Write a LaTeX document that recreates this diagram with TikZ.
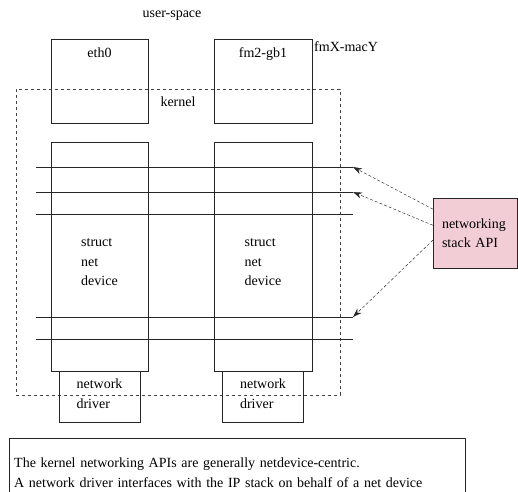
\documentclass[tikz,border=0pt]{standalone}
\usepackage{fontspec}
\setmainfont{Liberation Serif}
\usetikzlibrary{calc, positioning, arrows.meta}
\definecolor{apipink}{RGB}{243,205,214}

\begin{document}
\begin{tikzpicture}[
  x=1pt, y=-1pt,
  >={Stealth[length=9pt, width=6pt]},
  font=\fontsize{14}{19.5}\selectfont
]
\tikzstyle{box}=[draw=black!85, line width=0.7pt, inner sep=0pt, outer sep=0pt]
\tikzstyle{bus}=[draw=black!85, line width=0.8pt]
\tikzstyle{call}=[->, densely dashed, line width=0.45pt, black!85]

\useasboundingbox (0,0) rectangle (518,491);

% ================= USER SPACE =================
\node (user) at (172,16) {user-space};
\node[box, minimum width=97pt, minimum height=84pt,
      label={[anchor=north, yshift=-5pt]north:eth0}] (eth0) at (99.5,81) {};
\node[box, minimum width=98pt, minimum height=84pt,
      label={[anchor=north, yshift=-5pt]north:fm2-gb1}] (fm2) [right=66pt of eth0] {};
\node[anchor=north west, inner sep=2pt] (macY) at (fm2.north east) {fmX-macY};

% ================= KERNEL =================
\node[box, dashed, draw=black!75, minimum width=324pt, minimum height=306pt,
      label={[anchor=north, yshift=-4pt]north:kernel}] (kernel) at (178,242) {};

% ================= NET DEVICES =================
\node[box, minimum width=97pt, minimum height=229pt,
      label={[align=left, yshift=-6pt]center:struct\\net\\device}] (dev0) [below=19pt of eth0] {};
\node[box, minimum width=98pt, minimum height=229pt,
      label={[align=left, yshift=-6pt]center:struct\\net\\device}] (dev1) [below=19pt of fm2] {};

% ================= DRIVERS =================
\node[box, minimum width=81pt, minimum height=51pt,
      label={[align=left, yshift=3pt]center:network\\driver}] (drv0) [below=0pt of dev0] {};
\node[box, minimum width=81pt, minimum height=51pt,
      label={[align=left, yshift=3pt]center:network\\driver}] (drv1) [below=0pt of dev1] {};

% ===== API lines =====
\foreach \i/\y in {1/167, 2/192, 3/214, 4/317, 5/339} {
  \coordinate (l\i w) at (36,\y);
  \coordinate (l\i e) at (353,\y);
  \draw[bus] (l\i w) -- (l\i e);
}

% ================= STACK API =================
\node[box, fill=apipink, minimum width=84pt, minimum height=70pt,
      text width=66pt, align=left] (api) at (475,233) {networking\\stack API};

\draw[call] ($(api.north west)!0.16!(api.south west)$) -- (l1e);
\draw[call] ($(api.north west)!0.39!(api.south west)$) -- (l2e);
\draw[call] ($(api.north west)!0.6!(api.south west)$) -- (l4e);

% ================= NOTE =================
\node[box, minimum width=456pt, minimum height=56pt, anchor=north west,
      label={[anchor=south west, align=left, text width=446pt, inner xsep=5pt,
              inner ysep=0pt, yshift=6pt, font=\fontsize{14}{20}\selectfont]south west:
        The kernel networking APIs are generally netdevice-centric.\\
        A network driver interfaces with the IP stack on behalf of a net device}] (note) at (9,438) {};
\end{tikzpicture}
\end{document}
